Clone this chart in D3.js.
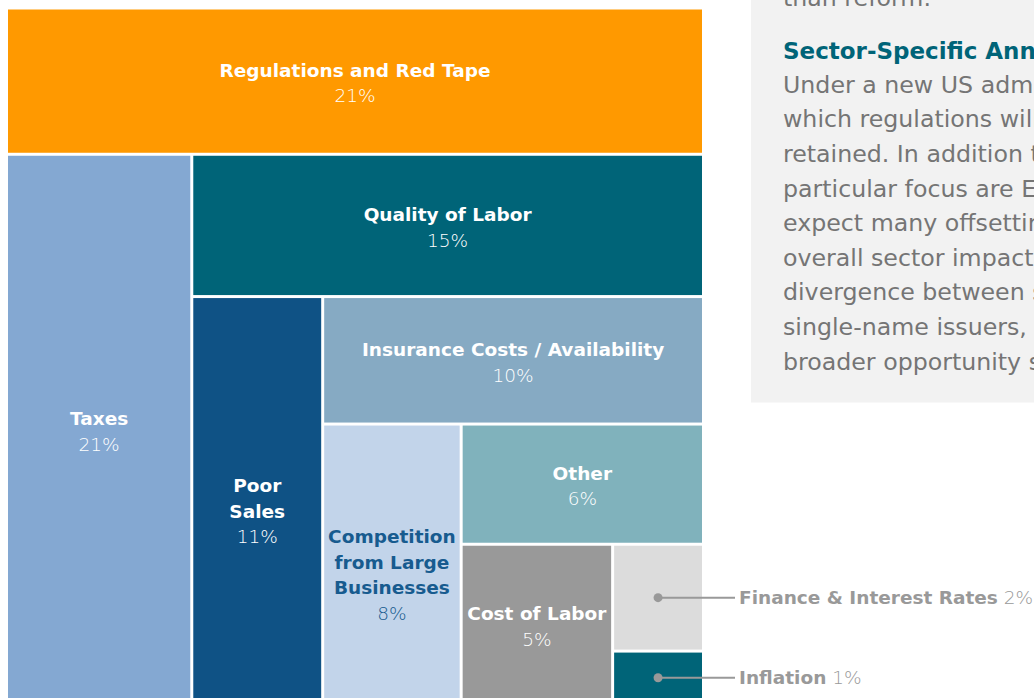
<!DOCTYPE html>
<html>
<head>
<meta charset="utf-8">
<script src="https://cdn.jsdelivr.net/npm/d3@7"></script>
<style>
  body { margin: 0; background: #fff; }
  svg { display: block; }
</style>
</head>
<body>
<div id="chart"></div>
<script>
const config = {
    width: 1034,
    height: 698,
    mapLeft: 8,
    mapTop: 9.5,
    mapWidth: 694,
    mapHeight: 693.5,
    gap: 3
};

// challenges, largest first (share of respondents, %)
const categories = [
    'Regulations and Red Tape',
    'Taxes',
    'Quality of Labor',
    'Poor\nSales',
    'Insurance Costs / Availability',
    'Competition\nfrom Large\nBusinesses',
    'Other',
    'Cost of Labor',
    'Finance & Interest Rates',
    'Inflation'
];
const values = [21, 21, 15, 11, 10, 8, 6, 5, 2, 1];
const fills = ['#ff9900', '#84a8d2', '#006478', '#0f5285', '#86aac3', '#c2d4ea', '#80b2bc', '#999999', '#dcdcdc', '#006478'];
const textColors = ['#fff', '#fff', '#fff', '#fff', '#fff', '#175b8f', '#fff', '#fff', '#999', '#999'];

const noteTail = 'than reform.';
const noteTitle = 'Sector-Specific Annotations';
const noteLines = [
    'Under a new US administration,',
    'which regulations will be rolled back',
    'retained. In addition to the',
    'particular focus are Energy,',
    'expect many offsetting effects',
    'overall sector impact, but',
    'divergence between sectors',
    'single-name issuers, creating a',
    'broader opportunity set.'
];

// nest the list so each level splits off one category
let nested = { name: categories[values.length - 1], value: values[values.length - 1], idx: values.length - 1 };
for (let i = values.length - 2; i >= 0; i--) {
    nested = { children: [{ name: categories[i], value: values[i], idx: i }, nested] };
}

const root = d3.hierarchy(nested).sum(d => d.value || 0);

d3.treemap()
    .size([config.mapWidth, config.mapHeight])
    .paddingInner(config.gap)
    .tile((node, x0, y0, x1, y1) => (node.depth % 2 === 0 ? d3.treemapSlice : d3.treemapDice)(node, x0, y0, x1, y1))
    (root);

const svg = d3.select('#chart')
    .append('svg')
    .attr('width', config.width)
    .attr('height', config.height)
    .attr('viewBox', [0, 0, config.width, config.height]);

// side note panel (cut off by the page edge)
const note = svg.append('g');
note.append('rect')
    .attr('x', 751)
    .attr('y', -10)
    .attr('width', 320)
    .attr('height', 412.5)
    .attr('fill', '#f2f2f2');

note.append('text')
    .attr('x', 783)
    .attr('y', 6)
    .attr('fill', '#757575')
    .attr('font-family', 'DejaVu Sans')
    .attr('font-size', 23.7)
    .text(noteTail);

note.append('text')
    .attr('x', 783)
    .attr('y', 58.5)
    .attr('fill', '#006478')
    .attr('font-family', 'DejaVu Sans')
    .attr('font-weight', 'bold')
    .attr('font-size', 23)
    .text(noteTitle);

note.selectAll('text.body')
    .data(noteLines)
    .join('text')
    .attr('class', 'body')
    .attr('x', 783)
    .attr('y', (d, i) => 92.7 + i * 34.6)
    .attr('fill', '#757575')
    .attr('font-family', 'DejaVu Sans')
    .attr('font-size', 23.7)
    .text(d => d);

const map = svg.append('g')
    .attr('transform', `translate(${config.mapLeft},${config.mapTop})`);

const leaves = root.leaves();

map.selectAll('rect')
    .data(leaves)
    .join('rect')
    .attr('x', d => d.x0)
    .attr('y', d => d.y0)
    .attr('width', d => d.x1 - d.x0)
    .attr('height', d => d.y1 - d.y0)
    .attr('fill', d => fills[d.data.idx]);

const lineHeight = 25.5;

leaves.forEach(d => {
    const i = d.data.idx;
    const color = textColors[i];
    const cx = (d.x0 + d.x1) / 2;
    const cy = (d.y0 + d.y1) / 2;

    if (values[i] < 3) {
        // small cells get a callout to the right
        const endX = config.mapWidth + 33;
        map.append('line')
            .attr('x1', cx)
            .attr('x2', endX)
            .attr('y1', cy)
            .attr('y2', cy)
            .attr('stroke', '#999')
            .attr('stroke-width', 2);
        map.append('circle')
            .attr('cx', cx)
            .attr('cy', cy)
            .attr('r', 4.5)
            .attr('fill', '#999');
        const t = map.append('text')
            .attr('x', endX + 4)
            .attr('y', cy + 6.5)
            .attr('fill', color)
            .attr('font-family', 'DejaVu Sans')
            .attr('font-size', 18.5);
        t.append('tspan')
            .attr('font-weight', 'bold')
            .text(d.data.name);
        t.append('tspan')
            .attr('font-weight', 200)
            .text(' ' + values[i] + '%');
        return;
    }

    const lines = d.data.name.split('\n');
    // one-line names: centre name + value; wrapped names: centre the name lines
    const top = lines.length === 1
        ? cy + 2 - lineHeight / 2
        : cy - 2 - (lines.length - 1) * lineHeight / 2;

    const label = map.append('text')
        .attr('text-anchor', 'middle')
        .attr('fill', color)
        .attr('font-family', 'DejaVu Sans')
        .attr('font-size', 18.5);

    lines.forEach((ln, k) => {
        label.append('tspan')
            .attr('x', cx)
            .attr('y', top + k * lineHeight + 6.5)
            .attr('font-weight', 'bold')
            .text(ln);
    });

    label.append('tspan')
        .attr('x', cx)
        .attr('y', top + lines.length * lineHeight + 6.5)
        .attr('font-weight', 200)
        .text(values[i] + '%');
});
</script>
</body>
</html>
